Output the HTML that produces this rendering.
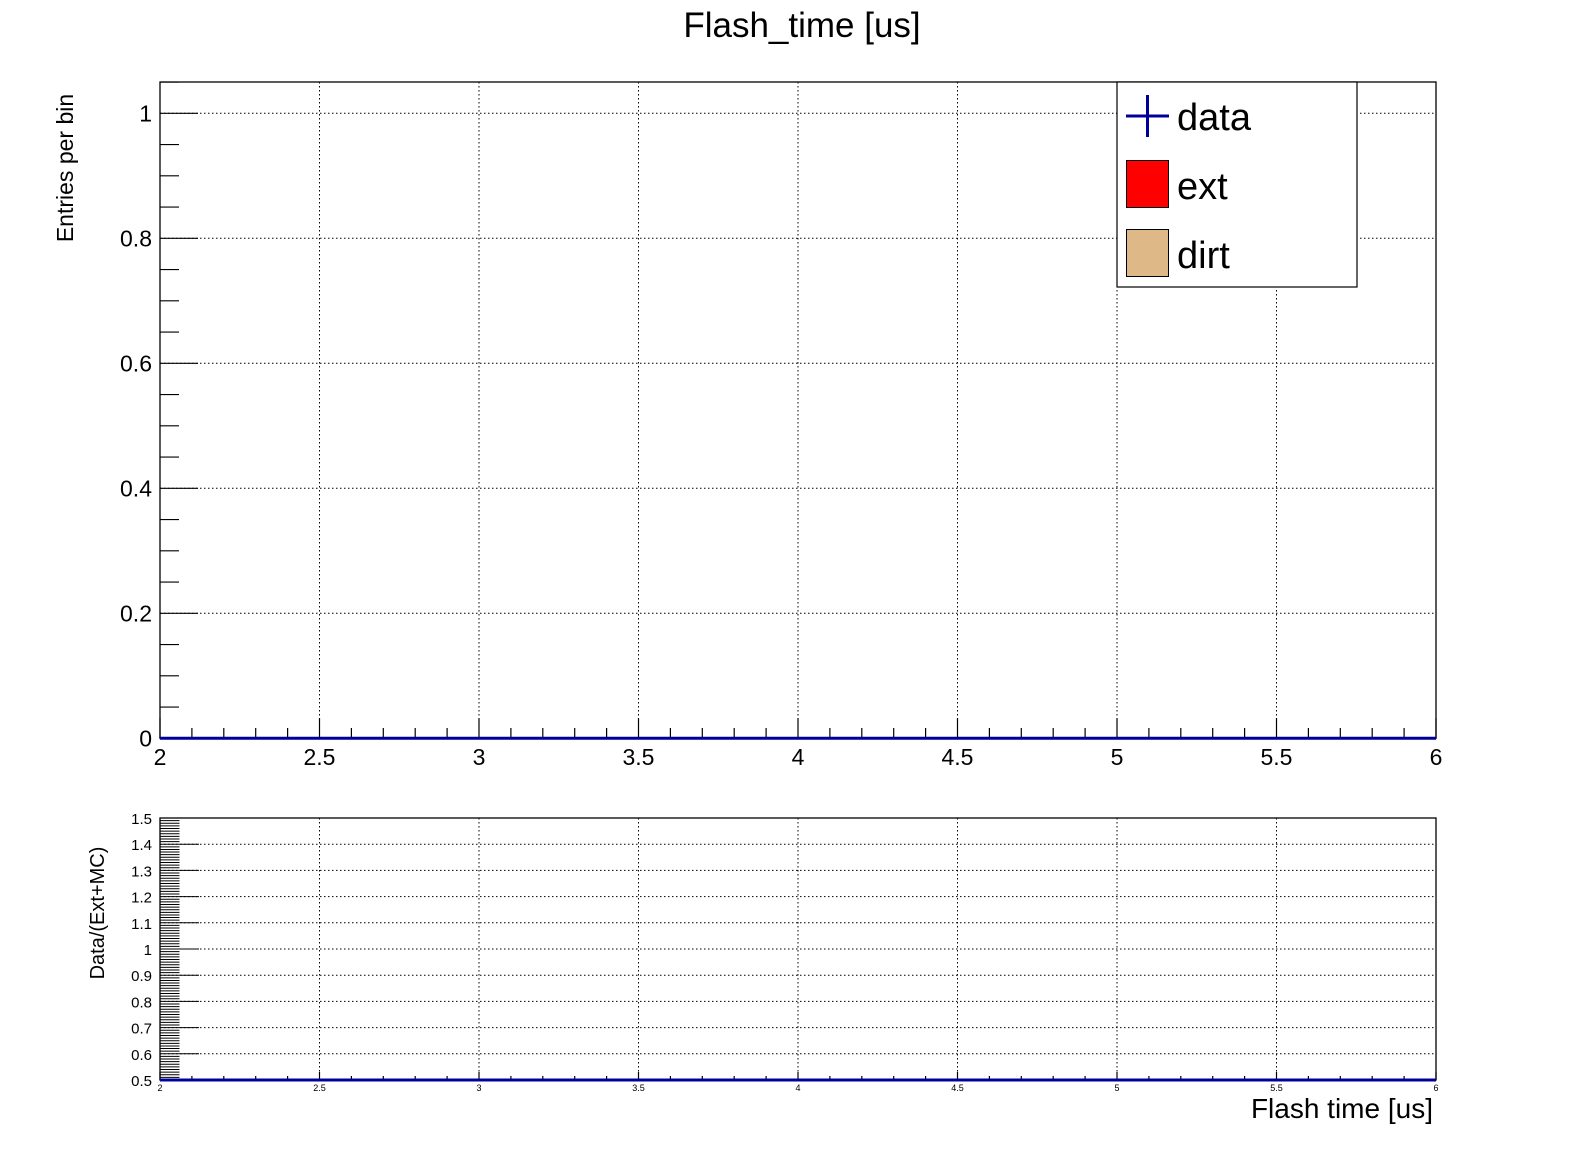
<!DOCTYPE html>
<html><head><meta charset="utf-8"><style>
html,body{margin:0;padding:0;background:#fff;}
svg{display:block;font-family:"Liberation Sans",sans-serif;}
</style></head><body>
<svg id="c" width="1596" height="1172" xmlns="http://www.w3.org/2000/svg">
<text x="802" y="37" font-size="35" text-anchor="middle">Flash_time [us]</text>
<g id="top"></g>
<g id="bot"></g>
<text transform="translate(73,168) rotate(-90)" font-size="23" text-anchor="middle">Entries per bin</text>
<text transform="translate(104,913) rotate(-90)" font-size="20" text-anchor="middle">Data/(Ext+MC)</text>
<text x="1433" y="1118" font-size="28" text-anchor="end">Flash  time [us]</text>
<g>
<rect x="1117" y="82" width="240" height="205" fill="#fff" stroke="#000" stroke-width="1.2"/>
<g>
<line x1="1126" y1="116" x2="1169" y2="116" stroke="#000099" stroke-width="3"/>
<line x1="1147.5" y1="95" x2="1147.5" y2="137" stroke="#000099" stroke-width="3"/>
<text x="1177" y="130" font-size="38">data</text></g>
<g>
<rect x="1126.5" y="160.5" width="42" height="47" fill="#ff0000" stroke="#000"/>
<text x="1177" y="199" font-size="38">ext</text></g>
<g>
<rect x="1126.5" y="229.5" width="42" height="47" fill="#deb887" stroke="#000"/>
<text x="1177" y="268" font-size="38">dirt</text></g>
</g>
</svg>
<script>
const binEdgesLow = [2.0,2.5,3.0,3.5,4.0,4.5,5.0,5.5];
const dataValues = [0,0,0,0,0,0,0,0];
const ratioValues = [0.5,0.5,0.5,0.5,0.5,0.5,0.5,0.5];
const binWidth = 0.5;
const xTicks = [2,2.5,3,3.5,4,4.5,5,5.5,6];
const xTickLabels = ["2","2.5","3","3.5","4","4.5","5","5.5","6"];
const yTicks = [0,0.2,0.4,0.6,0.8,1];
const yTickLabels = ["0","0.2","0.4","0.6","0.8","1"];
const rTicks = [0.5,0.6,0.7,0.8,0.9,1,1.1,1.2,1.3,1.4,1.5];
const rTickLabels = ["0.5","0.6","0.7","0.8","0.9","1","1.1","1.2","1.3","1.4","1.5"];

const NS="http://www.w3.org/2000/svg";
const L=160,R=1436;
const X=v=>L+(v-2)/4*(R-L);
const Yt=v=>738.3-v*625;
const Yb=v=>1080-(v-0.5)*262;
function mk(p,tag,a){const e=document.createElementNS(NS,tag);for(const k in a)e.setAttribute(k,a[k]);p.appendChild(e);return e;}
const gTop=document.getElementById('top'),gBot=document.getElementById('bot');

xTicks.forEach((v,i)=>{ if(i>0&&i<xTicks.length-1){const g=mk(gTop,'line',{x1:X(v),x2:X(v),y1:82,y2:738,stroke:'#000','stroke-width':1,'stroke-dasharray':'1.5,2.5'});


const g2=mk(gBot,'line',{x1:X(v),x2:X(v),y1:818,y2:1080,stroke:'#000','stroke-width':1,'stroke-dasharray':'1.5,2.5'});

}});
yTicks.forEach(v=>{ if(v>0){const g=mk(gTop,'line',{x1:160,x2:1436,y1:Yt(v),y2:Yt(v),stroke:'#000','stroke-width':1,'stroke-dasharray':'1.5,2.5'});

}});
rTicks.forEach(v=>{ if(v>0.5&&v<1.5){const g=mk(gBot,'line',{x1:160,x2:1436,y1:Yb(v),y2:Yb(v),stroke:'#000','stroke-width':1,'stroke-dasharray':'1.5,2.5'});

}});

const f1=mk(gTop,'rect',{x:160,y:82,width:R-L,height:738.3-82,fill:'none',stroke:'#000','stroke-width':1.3});


const f2=mk(gBot,'rect',{x:160,y:818,width:R-L,height:262,fill:'none',stroke:'#000','stroke-width':1.3});



for(let i=0;i<=40;i++){const v=2+i*0.1;const maj=i%5===0;
mk(gTop,'line',{x1:X(v),x2:X(v),y1:738,y2:738-(maj?20:10),stroke:'#000','stroke-width':1.2});
mk(gBot,'line',{x1:X(v),x2:X(v),y1:1080,y2:1080-(maj?8:4),stroke:'#000','stroke-width':1.2});}
xTicks.forEach((v,i)=>{
const t=mk(gTop,'text',{x:X(v),y:765,'font-size':23,'text-anchor':'middle'});t.textContent=xTickLabels[i];


const t2=mk(gBot,'text',{x:X(v),y:1091,'font-size':9,'text-anchor':'middle'});t2.textContent=xTickLabels[i];

});

for(let i=0;i<=21;i++){const v=i*0.05;const maj=(i%4===0);
mk(gTop,'line',{x1:160,x2:160+(maj?38:19),y1:Yt(v),y2:Yt(v),stroke:'#000','stroke-width':1.2});}
yTicks.forEach((v,i)=>{const t=mk(gTop,'text',{x:152,y:Yt(v)+8,'font-size':23,'text-anchor':'end'});t.textContent=yTickLabels[i];

});
for(let i=0;i<=100;i++){const v=0.5+i*0.01;const maj=i%10===0;
mk(gBot,'line',{x1:160,x2:160+(maj?39:19.5),y1:Yb(v),y2:Yb(v),stroke:'#000','stroke-width':1});}
rTicks.forEach((v,i)=>{const t=mk(gBot,'text',{x:152,y:Yb(v)+6,'font-size':15,'text-anchor':'end'});t.textContent=rTickLabels[i];

});

binEdgesLow.forEach((lo,i)=>{
const b=mk(gTop,'line',{x1:X(lo),x2:X(lo+binWidth),y1:Yt(dataValues[i]),y2:Yt(dataValues[i]),stroke:'#000099','stroke-width':3});


const r=mk(gBot,'line',{x1:X(lo),x2:X(lo+binWidth),y1:Yb(ratioValues[i]),y2:Yb(ratioValues[i]),stroke:'#000099','stroke-width':3});

});
</script>
</body></html>
